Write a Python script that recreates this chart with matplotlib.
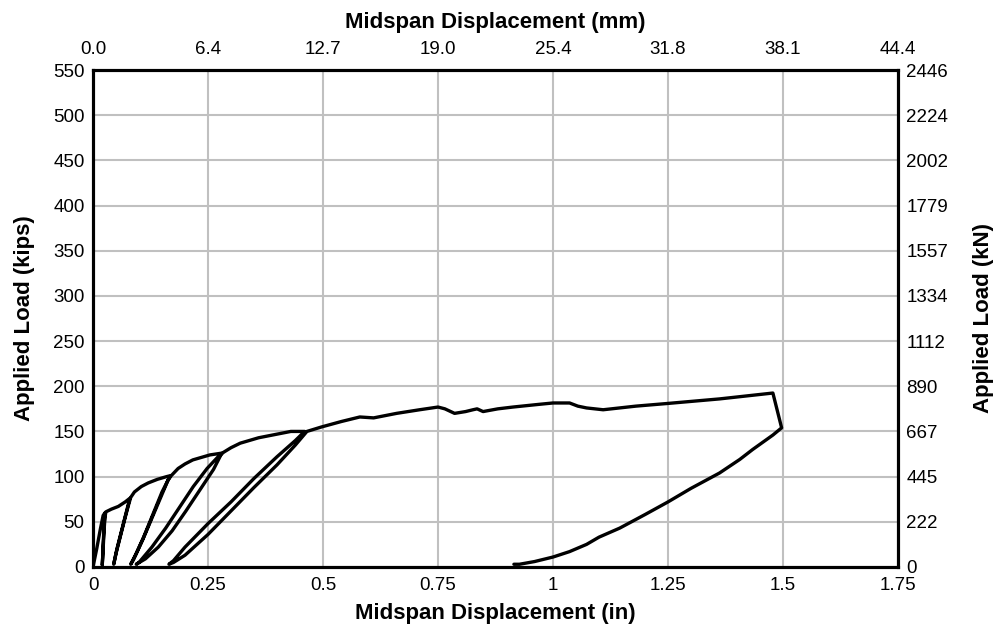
import matplotlib
matplotlib.use("Agg")
import matplotlib.pyplot as plt

plt.rcParams['font.family'] = ['Liberation Sans', 'DejaVu Sans']

# Load-displacement path (in, kips) in drawing order
disp_in = [
    0.0, 0.008, 0.016, 0.022, 0.026,
    0.024, 0.022, 0.021, 0.020,
    0.022, 0.024, 0.026, 0.028,
    0.040, 0.055, 0.070, 0.080,
    0.072, 0.062, 0.052, 0.045,
    0.050, 0.060, 0.070, 0.078, 0.082,
    0.090, 0.105, 0.120, 0.140, 0.160, 0.168,
    0.150, 0.130, 0.110, 0.093, 0.082,
    0.088, 0.108, 0.128, 0.148, 0.163, 0.170,
    0.185, 0.200, 0.217, 0.254, 0.280,
    0.262, 0.232, 0.202, 0.172, 0.142, 0.114, 0.094,
    0.100, 0.128, 0.158, 0.188, 0.218, 0.248, 0.272, 0.284,
    0.300, 0.320, 0.360, 0.400, 0.430, 0.460,
    0.440, 0.400, 0.350, 0.300, 0.250, 0.200, 0.175, 0.165,
    0.175, 0.200, 0.250, 0.300, 0.350, 0.400, 0.440, 0.465,
    0.497, 0.540, 0.580, 0.610, 0.660, 0.710, 0.750, 0.765, 0.786,
    0.810, 0.826, 0.835, 0.848, 0.880, 0.913, 0.970, 1.000, 1.036,
    1.054, 1.073, 1.109, 1.180, 1.250, 1.362, 1.478,
    1.497,
    1.478, 1.434, 1.406, 1.362, 1.300, 1.250, 1.200, 1.145, 1.100,
    1.073, 1.036, 1.000, 0.960, 0.927, 0.915,
]
load_kips = [
    0, 20, 42, 57, 60,
    45, 25, 10, 2,
    20, 40, 55, 61,
    64, 67, 72, 76,
    60, 40, 20, 3,
    15, 35, 55, 70, 77,
    83, 89, 93, 97, 100, 101,
    83, 58, 33, 14, 3,
    8, 30, 54, 78, 96, 101,
    109, 114, 118.5, 124, 126,
    108, 85, 62, 40, 22, 9, 3,
    5, 22, 43, 66, 89, 109, 122, 127,
    132, 137, 143, 147, 150, 150,
    140, 122, 98, 72, 48, 22, 7, 3,
    5, 13, 36, 62, 88, 113, 135, 150,
    155, 161, 166, 165, 170, 174, 177, 175, 170,
    172, 174, 175, 172, 175, 177, 180, 181.5, 181.5,
    178, 176, 174, 178, 181, 186, 192.5,
    154,
    146, 130, 119, 104, 87, 72, 58, 43, 33,
    25, 17, 11, 6, 3, 3,
]

x_ticks = [0, 0.25, 0.5, 0.75, 1.0, 1.25, 1.5, 1.75]
x_labels_in = ['0', '0.25', '0.5', '0.75', '1', '1.25', '1.5', '1.75']
x_labels_mm = ['0.0', '6.4', '12.7', '19.0', '25.4', '31.8', '38.1', '44.4']
y_ticks = [0, 50, 100, 150, 200, 250, 300, 350, 400, 450, 500, 550]
y_labels_kn = ['0', '222', '445', '667', '890', '1112', '1334', '1557',
               '1779', '2002', '2224', '2446']

fig = plt.figure(figsize=(9.98, 6.32), dpi=100)
ax = fig.add_axes([0.0932, 0.1029, 0.8066, 0.7863])

ax.plot(disp_in, load_kips, color='black', lw=2.4, solid_joinstyle='round',
        solid_capstyle='round', zorder=3)

ax.set_xlim(0, 1.75)
ax.set_ylim(0, 550)
ax.set_xticks(x_ticks)
ax.set_xticklabels(x_labels_in)
ax.set_yticks(y_ticks)
ax.grid(True, color='#c0c0c0', lw=1.5, zorder=0)
ax.set_axisbelow(True)
ax.tick_params(axis='y', length=0, labelsize=13.5, pad=6)
ax.tick_params(axis='x', length=0, labelsize=13.5, pad=7.5)

axt = ax.twiny()
axt.set_xlim(0, 1.75)
axt.set_xticks(x_ticks)
axt.set_xticklabels(x_labels_mm)
axt.tick_params(axis='x', length=0, labelsize=13.5, pad=9)

axr = ax.twinx()
axr.set_ylim(0, 550)
axr.set_yticks(y_ticks)
axr.set_yticklabels(y_labels_kn)
axr.tick_params(axis='y', length=0, labelsize=13.5, pad=6)

for a in (ax, axt, axr):
    for s in a.spines.values():
        s.set_linewidth(2.2)
        s.set_color('black')

lab = dict(fontsize=16, fontweight='bold')
ax.set_xlabel('Midspan Displacement (in)', labelpad=6, **lab)
ax.set_ylabel('Applied Load (kips)', labelpad=13, **lab)
axt.set_xlabel('Midspan Displacement (mm)', labelpad=9, **lab)
axr.set_ylabel('Applied Load (kN)', labelpad=18, **lab)

fig.savefig('out.png', dpi=100)
